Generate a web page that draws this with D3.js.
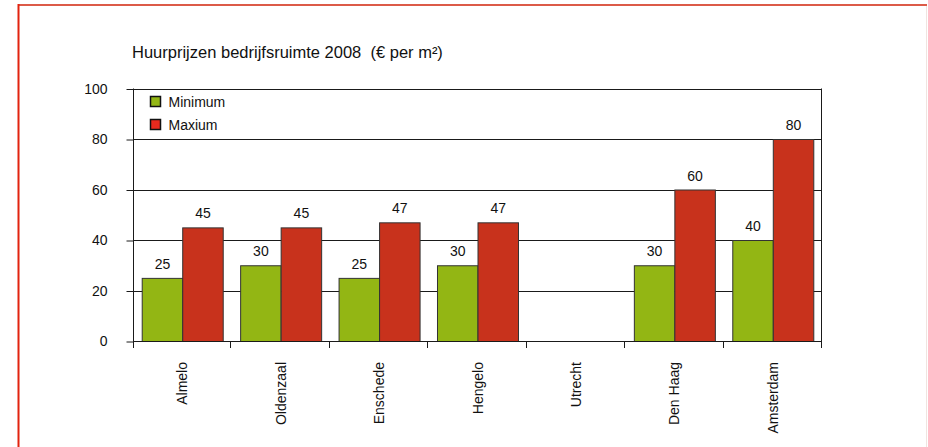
<!DOCTYPE html>
<html>
<head>
<meta charset="utf-8">
<script src="https://cdn.jsdelivr.net/npm/d3@7"></script>
<style>
  html, body { margin: 0; padding: 0; background: #fff; }
  svg { display: block; font-family: "Liberation Sans", Arial, sans-serif; }
  .title { white-space: pre; }
</style>
</head>
<body>
<svg id="chart" width="928" height="447"></svg>
<script>
const categories = ["Almelo", "Oldenzaal", "Enschede", "Hengelo", "Utrecht", "Den Haag", "Amsterdam"];
const minimumValues = [25, 30, 25, 30, null, 30, 40];
const maximumValues = [45, 45, 47, 47, null, 60, 80];
const seriesNames = ["Minimum", "Maxium"];
const yTicks = [0, 20, 40, 60, 80, 100];
const titleText = "Huurprijzen bedrijfsruimte 2008  (€ per m²)";

const colors = { Minimum: "#93b614", Maxium: "#c8321c" };

const svg = d3.select("#chart");

// frame
svg.append("line").attr("x1", 18).attr("x2", 927).attr("y1", 5).attr("y2", 5)
  .attr("stroke", "#dc5b48").attr("stroke-width", 2);
svg.append("line").attr("x1", 18.5).attr("x2", 18.5).attr("y1", 4).attr("y2", 447)
  .attr("stroke", "#e2230f").attr("stroke-width", 2);
svg.append("line").attr("x1", 926.5).attr("x2", 926.5).attr("y1", 6).attr("y2", 447)
  .attr("stroke", "#f0e4e0").attr("stroke-width", 1);

const plot = { left: 133, right: 822, top: 88.5, bottom: 341 };

const x0 = d3.scaleBand().domain(categories).range([plot.left, plot.right]).paddingInner(0).paddingOuter(0);
const x1 = d3.scaleBand().domain(seriesNames).range([0, x0.bandwidth()]).paddingInner(0).paddingOuter(0.215);
const y = d3.scaleLinear().domain([0, 100]).range([plot.bottom, plot.top]);

// title
svg.append("text").attr("class", "title")
  .attr("x", 132).attr("y", 58)
  .attr("font-size", 16.5).attr("fill", "#111")
  .text(titleText);

// grid lines
svg.append("g").selectAll("line").data(yTicks.filter(d => d > 0)).join("line")
  .attr("x1", plot.left).attr("x2", plot.right)
  .attr("y1", d => Math.round(y(d)) + 0.5).attr("y2", d => Math.round(y(d)) + 0.5)
  .attr("stroke", "#1a1a1a").attr("stroke-width", 1);

// y axis
const yAxis = d3.axisLeft(y).tickValues(yTicks).tickSize(7).tickPadding(19).tickFormat(d3.format("d"));
const gy = svg.append("g").attr("transform", `translate(${plot.left + 0.5},0.5)`).call(yAxis);
gy.select(".domain").remove();
gy.selectAll(".tick line").attr("stroke", "#1a1a1a");
gy.selectAll(".tick text").attr("font-size", 14).attr("fill", "#111")
  .attr("font-family", "Liberation Sans, Arial, sans-serif");
svg.append("line").attr("x1", plot.left + 0.5).attr("x2", plot.left + 0.5)
  .attr("y1", plot.top).attr("y2", plot.bottom + 7).attr("stroke", "#1a1a1a");
svg.append("line").attr("x1", plot.right - 0.5).attr("x2", plot.right - 0.5)
  .attr("y1", plot.top).attr("y2", plot.bottom + 7).attr("stroke", "#1a1a1a");

// bars
const rows = categories.map((c, i) => ({ cat: c, vals: [
  { key: "Minimum", v: minimumValues[i] }, { key: "Maxium", v: maximumValues[i] }] }));

const groups = svg.append("g").selectAll("g").data(rows).join("g")
  .attr("transform", d => `translate(${x0(d.cat)},0)`);

groups.selectAll("rect").data(d => d.vals.filter(v => v.v != null)).join("rect")
  .attr("x", d => x1(d.key) + 0.5)
  .attr("y", d => y(d.v) + 0.5)
  .attr("width", x1.bandwidth())
  .attr("height", d => y(0) - y(d.v))
  .attr("fill", d => colors[d.key])
  .attr("stroke", "#333").attr("stroke-width", 1);

groups.selectAll("text").data(d => d.vals.filter(v => v.v != null)).join("text")
  .attr("x", d => x1(d.key) + x1.bandwidth() / 2 + 0.5)
  .attr("y", d => y(d.v) - 9)
  .attr("text-anchor", "middle").attr("font-size", 14).attr("fill", "#111")
  .text(d => d.v);

// x axis
svg.append("line").attr("x1", plot.left).attr("x2", plot.right)
  .attr("y1", plot.bottom + 0.5).attr("y2", plot.bottom + 0.5).attr("stroke", "#1a1a1a");
const boundaries = categories.map(c => x0(c)).concat([plot.right]);
svg.append("g").selectAll("line").data(boundaries.slice(1)).join("line")
  .attr("x1", d => Math.round(d) - 0.5).attr("x2", d => Math.round(d) - 0.5)
  .attr("y1", plot.bottom).attr("y2", plot.bottom + 7).attr("stroke", "#1a1a1a");

svg.append("g").selectAll("text").data(categories).join("text")
  .attr("transform", d => `translate(${x0(d) + x0.bandwidth() / 2 + 5},${plot.bottom + 21}) rotate(-90)`)
  .attr("text-anchor", "end").attr("font-size", 14).attr("fill", "#111")
  .text(d => d);

// legend
const legend = svg.append("g").selectAll("g").data(seriesNames).join("g")
  .attr("transform", (d, i) => `translate(150.5,${96.5 + i * 23})`);
legend.append("rect").attr("width", 10).attr("height", 10)
  .attr("fill", d => d === "Minimum" ? "#93b614" : "#e82a1e")
  .attr("stroke", "#111").attr("stroke-width", 1.5);
legend.append("text").attr("x", 18).attr("y", 10.5).attr("font-size", 14).attr("fill", "#111")
  .text(d => d);
</script>
</body>
</html>
